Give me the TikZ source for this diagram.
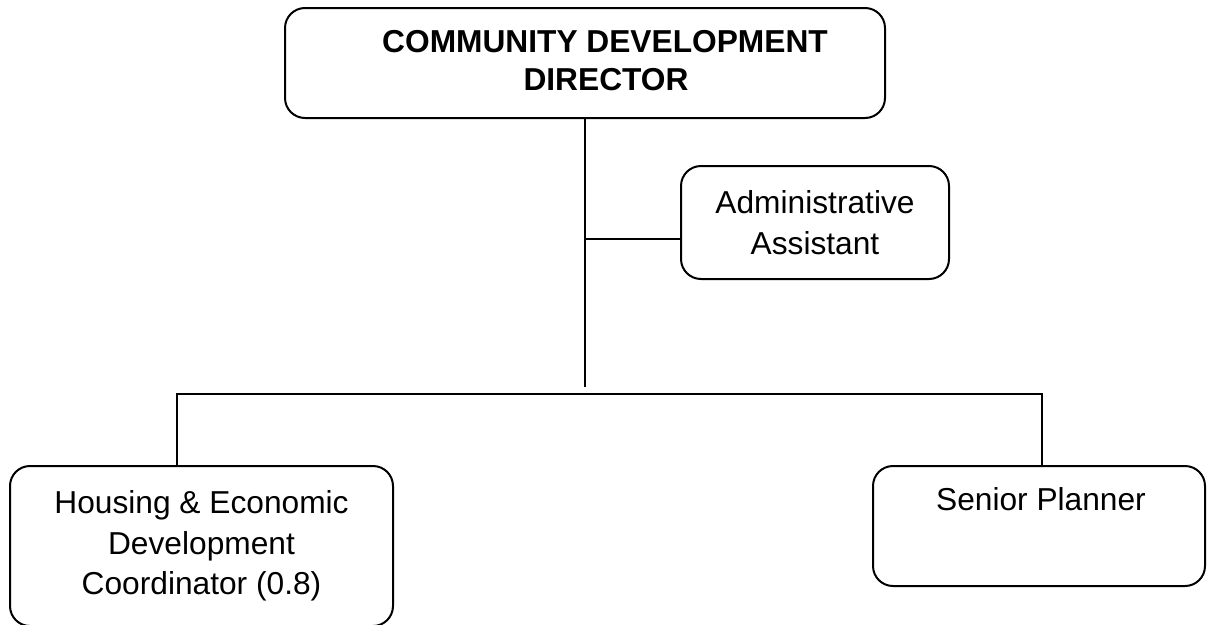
\documentclass[tikz,border=0pt]{standalone}
\usepackage{fontspec}
\setmainfont{Liberation Sans}
\begin{document}
\begin{tikzpicture}[x=1pt,y=-1pt,
  box/.style={draw, line width=2pt, rounded corners=20pt, inner sep=0pt, align=center, font=\fontsize{31.7}{40.5}\selectfont},
  lbl/.style={inner sep=0pt, font=\fontsize{31.7}{40}\selectfont},
  title/.style={inner sep=0pt, font=\bfseries\fontsize{31.7}{38}\selectfont},
  conn/.style={line width=2pt}]
\useasboundingbox (0,0) rectangle (1207,624);
% boxes
\node[box, minimum width=600pt, minimum height=110pt] (dir) at (585,63) {};
\node[title, anchor=base] (dirt1) at (605,52) {COMMUNITY DEVELOPMENT};
\node[title, anchor=base] (dirt2) at (606,90) {DIRECTOR};
\node[box, minimum width=268pt, minimum height=113pt] (adm) at (815,222.5) {Administrative\\Assistant};
\node[box, minimum width=383pt, minimum height=160pt] (hec) at (201.5,546) {Housing \& Economic\\Development\\Coordinator (0.8)};
\node[box, minimum width=332pt, minimum height=120pt] (sp) at (1039,526) {};
\node[lbl, anchor=base] (spt) at (1041,510) {Senior Planner};
% connectors
\coordinate (j1) at (585,387);
\coordinate (a1) at (585,239);
\coordinate (bl) at (177,394);
\coordinate (br) at (1042,394);
\draw[conn] (dir.south) -- (j1);
\draw[conn] (a1) -- (a1 -| adm.west);
\draw[conn] (hec.north -| bl) -- (bl) -- (br) -- (sp.north -| br);
\end{tikzpicture}
\end{document}
